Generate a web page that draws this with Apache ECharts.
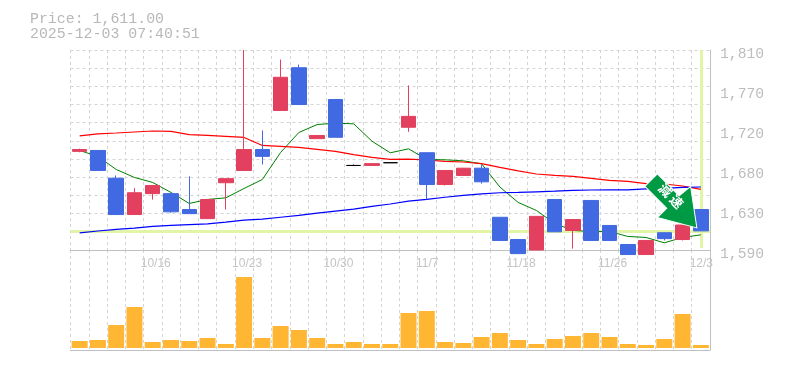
<!DOCTYPE html>
<html><head><meta charset="utf-8">
<style>html,body{margin:0;padding:0;background:#fff}#c{width:785px;height:370px}</style>
<script src="https://cdn.jsdelivr.net/npm/echarts@6/dist/echarts.min.js"></script>
</head><body><div id="c"></div>
<script>
const categories=['10/9','10/10','10/14','10/15','10/16','10/17','10/20','10/21','10/22','10/23','10/24','10/27','10/28','10/29','10/30','10/31','11/4','11/5','11/6','11/7','11/10','11/11','11/12','11/17','11/18','11/19','11/20','11/21','11/25','11/26','11/27','11/28','12/1','12/2','12/3'];
const dateTicks=['10/16','10/23','10/30','11/7','11/18','11/26','12/3'];
const priceLabelTicks=[1590,1634,1678,1722,1766,1810];
const priceGridTicks=[1590,1610,1630,1650,1670,1690,1710,1730,1750,1770,1790,1810];
const opens=[1698.5,1699.5,1669,1629,1652,1652,1634.5,1624.5,1664,1677.5,1700.5,1743.5,1790.5,1712.5,1755.5,1683,1683,1686,1725,1697,1662,1672,1680,1626,1601.5,1590,1645.5,1611.5,1644.5,1617,1596,1585,1609,1601.5,1634.5];
const closes=[1700.5,1677.5,1629,1653,1661,1632,1630,1645.5,1668.5,1700.5,1693,1780,1750,1716,1714,1683,1685,1686,1737,1662,1677.5,1680,1665,1600.5,1586,1627,1610,1623.5,1600.5,1600.5,1585,1600.5,1602.5,1617.5,1611];
const lows=[1697.5,1677.5,1629,1629,1645.5,1631,1630,1624.5,1634.5,1677.5,1684,1743.5,1750,1712.5,1714,1683,1683,1686,1720,1645.5,1661,1672,1663,1600.5,1586,1590,1610,1591.5,1600.5,1600.5,1585,1585,1600.5,1600.5,1611];
const highs=[1701.5,1699.5,1672,1658,1661,1653,1671,1645.5,1668.5,1810,1721.5,1799.5,1794,1716,1755.5,1684,1685,1686,1771,1697,1677.5,1680,1684,1626,1601.5,1627,1645.5,1623.5,1644.5,1617,1596,1600.5,1609.5,1617.5,1634.5];
const maShort=[1699.5,1692.9,1678.6,1669.8,1664.3,1653.3,1641.2,1645.6,1647.4,1657.7,1667.6,1697.3,1719.3,1728,1729.5,1728.8,1709.7,1696.9,1701.3,1689.6,1689.2,1688.1,1684.8,1659.3,1642.3,1633.5,1619.2,1611.5,1610.4,1610.4,1604.9,1603.8,1597.9,1603.8,1606.7];
const maMid=[1715.6,1717.8,1718.7,1719.8,1720.9,1720.4,1717,1716,1714.9,1713.8,1705,1703.9,1702.8,1700.6,1698.4,1695,1691.8,1689.6,1690,1689,1687.4,1686.8,1685,1680.8,1677,1673.6,1672,1670.9,1668.7,1666.5,1665.4,1663,1662.6,1660.4,1656.6];
const maLong=[1608.9,1610.9,1612.6,1614,1615.9,1617,1618,1618.8,1620.6,1622.8,1623.9,1626,1628,1630.5,1632.7,1634.9,1637.9,1640.6,1643.7,1645.6,1648,1650,1651.8,1653,1653.3,1654,1654.7,1655.5,1656,1656.2,1656.2,1657.3,1657.7,1658.8,1659.3];
const volumes=[7,8,23,41,6,8,7,10,4,71,10,22,18,10,4,6,4,4,35,37,6,5,11,15,8,4,9,12,15,11,4,3,9,34,3];
const lastPrice=1611;
const titleText='Price: 1,611.00\n2025-12-03 07:40:51';
const signalText='減 速';

const gray='#c0c0c0', grid='#d4d4d4', hl='#e2f5a6';
const candles=opens.map((o,i)=>[o,closes[i],lows[i],highs[i]]);
const vSplit={show:true,interval:0,lineStyle:{color:grid,type:[3,3],width:1}};
const dateFont={color:'#c4c4c4',fontFamily:'Liberation Sans',fontSize:12};
const chart=echarts.init(document.getElementById('c'),null,{renderer:'canvas'});
chart.setOption({
  animation:false,backgroundColor:'#fff',
  title:{text:titleText,left:30,top:12,padding:0,textStyle:{fontFamily:'Liberation Mono',fontSize:14.9,fontWeight:'normal',color:'#b8b8b8',lineHeight:15}},
  grid:[{left:70.5,right:75,top:50,height:200},{left:70.5,right:75,top:250,height:100}],
  xAxis:[
    {type:'category',gridIndex:0,data:categories,boundaryGap:true,
     axisLine:{onZero:false,lineStyle:{color:gray,width:1}},axisTick:{show:false},splitLine:vSplit,
     axisLabel:Object.assign({interval:(i,v)=>dateTicks.includes(v),margin:8,hideOverlap:false,
       formatter:v=>v.length>4?`{a|${v}}`:`{b|${v}}`,
       rich:{a:Object.assign({padding:[0,0,0,6]},dateFont),b:Object.assign({padding:[0,0,0,1]},dateFont)}},dateFont)},
    {type:'category',gridIndex:1,data:categories,boundaryGap:true,
     axisLine:{onZero:false,lineStyle:{color:gray,width:1}},axisTick:{show:false},splitLine:vSplit,axisLabel:{show:false}}
  ],
  yAxis:[
    {type:'value',gridIndex:0,position:'right',min:1590,max:1810,scale:true,
     axisLine:{show:true,lineStyle:{color:gray,width:1}},axisTick:{show:false,customValues:priceLabelTicks},splitLine:{show:false},
     axisLabel:{customValues:priceLabelTicks,margin:10,color:'#bdbdbd',fontFamily:'Liberation Mono',fontSize:14.7,verticalAlign:'top',lineHeight:8,
       formatter:v=>(Math.round(v/10)*10).toLocaleString('en-US')}},
    {type:'value',gridIndex:0,position:'left',min:1590,max:1810,scale:true,
     axisLine:{show:false},axisTick:{show:false,customValues:priceGridTicks},axisLabel:{show:false,customValues:priceGridTicks},
     splitLine:{show:true,lineStyle:{color:grid,type:[3,3],width:1}}},
    {type:'value',gridIndex:1,position:'right',min:-2,max:98,
     axisLine:{show:true,lineStyle:{color:gray,width:1}},axisTick:{show:false},axisLabel:{show:false},splitLine:{show:false}}
  ],
  series:[
    {type:'line',name:'short',xAxisIndex:0,yAxisIndex:0,data:maShort,showSymbol:false,z:2,lineStyle:{color:'#008000',width:1}},
    {type:'line',name:'mid',xAxisIndex:0,yAxisIndex:0,data:maMid,showSymbol:false,z:2,lineStyle:{color:'#ff0000',width:1.2},
     markLine:{silent:true,z:1,symbol:'none',label:{show:false},animation:false,lineStyle:{color:hl,width:3,type:'solid'},
       data:[[{xAxis:'10/9',yAxis:lastPrice,x:70.5},{xAxis:'12/3',yAxis:lastPrice,x:710}],[{xAxis:'12/3',yAxis:1592},{xAxis:'12/3',yAxis:1810}]]}},
    {type:'line',name:'long',xAxisIndex:0,yAxisIndex:0,data:maLong,showSymbol:false,z:2,lineStyle:{color:'#0000ff',width:1.2}},
    {type:'candlestick',xAxisIndex:0,yAxisIndex:0,data:candles,barWidth:15,clip:false,z:3,
     itemStyle:{color:'#e2405e',color0:'#4169e1',borderColor:'#e2405e',borderColor0:'#4169e1',borderColorDoji:'#000',borderWidth:1},
     markPoint:{silent:true,z:10,animation:false,
       data:[{coord:['12/3',lastPrice],symbol:'path://M12 0L0 12L21 33L12 42L50 52L44 12L33 21Z',symbolSize:[52,54],symbolOffset:[-30,-30],symbolKeepAspect:false,
         itemStyle:{color:'#009944',borderColor:'#fff',borderWidth:1},
         label:{show:true,position:'inside',formatter:signalText,rotate:-45,offset:[-3.5,-3.5],color:'#fff',fontSize:13,fontWeight:'bold',fontFamily:'Noto Sans CJK JP'}}]}},
    {type:'bar',xAxisIndex:1,yAxisIndex:2,data:volumes,barWidth:16,itemStyle:{color:'#ffb733'}}
  ]
});
</script></body></html>
